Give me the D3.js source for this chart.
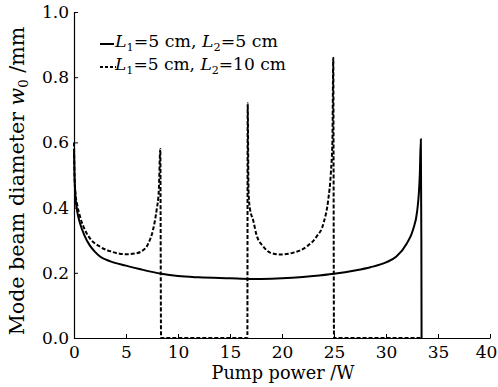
<!DOCTYPE html>
<html><head><meta charset="utf-8">
<script src="https://cdn.jsdelivr.net/npm/d3@7"></script>
<style>
body{margin:0;background:#fff}
svg{display:block}
text{font-family:"DejaVu Serif",serif;fill:#000}
</style>
</head><body>
<svg id="c" width="498" height="387"></svg>
<script>
// ---- data ----
const xTicks = [0, 5, 10, 15, 20, 25, 30, 35, 40];
const yTicks = [0.0, 0.2, 0.4, 0.6, 0.8, 1.0];
const xLabel = "Pump power /W";
const legendNames = ["5 cm", "10 cm"];

// L1=5 cm, L2=5 cm (solid)
const solidX = [0, 0.05, 0.15, 0.3, 0.6, 1.0, 1.5, 2.0, 2.5, 3.5, 5, 6.5, 8.4, 10, 12, 15, 17, 19, 21, 23, 25, 27, 28.5, 30, 31, 32, 32.6, 33.0, 33.15, 33.25, 33.35, 33.4, 33.42];
const solidY = [0.58, 0.5, 0.43, 0.39, 0.35, 0.315, 0.285, 0.265, 0.25, 0.235, 0.222, 0.21, 0.197, 0.19, 0.186, 0.183, 0.181, 0.182, 0.185, 0.19, 0.197, 0.207, 0.217, 0.232, 0.25, 0.29, 0.332, 0.39, 0.44, 0.5, 0.61, 0.3, 0];

// L1=5 cm, L2=10 cm (dashed)
const dashX = [0, 0.05, 0.15, 0.3, 0.6, 1.0, 1.5, 2.5, 3.5, 4.5, 5.1, 6.0, 6.5, 7.15, 7.6, 7.95, 8.15, 8.3, 8.37, 16.67, 16.7, 16.78, 16.9, 17.24, 17.56, 18.2, 18.85, 19.8, 21.1, 22.4, 23.3, 24.0, 24.45, 24.7, 24.85, 24.93, 25.0, 33.4];
const dashY = [0.60, 0.5, 0.44, 0.41, 0.37, 0.335, 0.307, 0.28, 0.266, 0.258, 0.257, 0.26, 0.266, 0.29, 0.332, 0.394, 0.45, 0.58, 0, 0, 0.72, 0.45, 0.4, 0.36, 0.315, 0.281, 0.262, 0.256, 0.262, 0.281, 0.31, 0.353, 0.425, 0.507, 0.61, 0.86, 0, 0];

// ---- drawing ----
const svg = d3.select("#c");
const x = d3.scaleLinear().domain([0, 40]).range([74, 490]);
const y = d3.scaleLinear().domain([0, 1]).range([338, 12]);

function fit(sel, target, base) {
  sel.attr("font-size", base);
  const w = sel.node().getComputedTextLength();
  if (w > 0) sel.attr("font-size", base * target / w);
}

const gx = svg.append("g").attr("transform", "translate(0,338)")
  .call(d3.axisBottom(x).tickValues(xTicks).tickSizeInner(-4).tickSizeOuter(0).tickPadding(8).tickFormat(d3.format("d")));
const gy = svg.append("g").attr("transform", "translate(74,0)")
  .call(d3.axisLeft(y).tickValues(yTicks).tickSizeInner(-4).tickSizeOuter(0).tickPadding(5).tickFormat(d3.format(".1f")));
[gx, gy].forEach(g => {
  g.select(".domain").attr("stroke", "#000").attr("stroke-width", 1.2);
  g.selectAll(".tick line").attr("stroke", "#000").attr("stroke-width", 1);
  g.selectAll(".tick text").attr("font-family", "DejaVu Serif").attr("font-size", 17).attr("fill", "#000");
});
gy.selectAll(".tick text").attr("x", -5);
gx.selectAll(".tick").filter(d => d === 40).select("text").attr("dx", -4);

const line = d3.line().curve(d3.curveMonotoneX).x(d => x(d[0])).y(d => y(d[1]));
svg.append("path").datum(solidX.map((v, i) => [v, solidY[i]]))
  .attr("d", line).attr("fill", "none").attr("stroke", "#000").attr("stroke-width", 2);
svg.append("path").datum(dashX.map((v, i) => [v, dashY[i]]))
  .attr("d", line).attr("fill", "none").attr("stroke", "#000").attr("stroke-width", 2)
  .attr("stroke-dasharray", "4,2");

// axis titles
const xt = svg.append("text").attr("x", 283).attr("y", 379).attr("text-anchor", "middle").text(xLabel);
fit(xt, 143, 18);
const yt = svg.append("text").attr("transform", "translate(24,181) rotate(-90)")
  .attr("text-anchor", "middle");
yt.append("tspan").text("Mode beam diameter ");
yt.append("tspan").attr("font-style", "italic").text("w");
yt.append("tspan").attr("font-size", "0.65em").attr("dy", 4).text("0");
yt.append("tspan").attr("dy", -4).text(" /mm");
fit(yt, 309, 18);

// legend
const legTargets = [163, 171];
legendNames.forEach((nm, i) => {
  const ly = 44 + i * 23;
  svg.append("line").attr("x1", 100).attr("x2", i ? 116 : 114).attr("y1", ly).attr("y2", ly)
    .attr("stroke", "#000").attr("stroke-width", 2).attr("stroke-dasharray", i ? "3,2" : null);
  const t = svg.append("text").attr("x", 115).attr("y", ly + 3);
  t.append("tspan").attr("font-style", "italic").text("L");
  t.append("tspan").attr("font-size", "0.65em").attr("dy", 4).text("1");
  t.append("tspan").attr("dy", -4).text("=5 cm, ");
  t.append("tspan").attr("font-style", "italic").text("L");
  t.append("tspan").attr("font-size", "0.65em").attr("dy", 4).text("2");
  t.append("tspan").attr("dy", -4).text("=" + nm);
  fit(t, legTargets[i], 17);
});
</script>
</body></html>
